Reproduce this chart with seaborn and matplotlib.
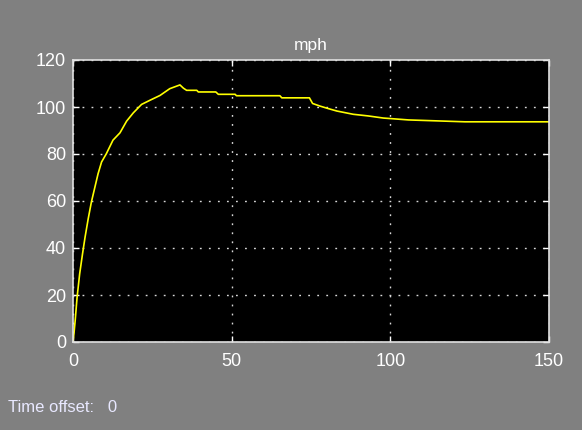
import numpy as np
import seaborn as sb
import pandas as pd
import matplotlib.pyplot as plt

# speed trace
t = [0, 0.3, 0.7, 1.3, 2.1, 3.0, 3.8, 4.8, 5.8, 6.9, 7.9, 9.0, 10.5, 12.6, 14.8,
     16.9, 19.0, 21.6, 24.3, 27.4, 30.5, 33.7, 34.8, 35.8, 39.0, 39.5, 45.0, 45.8,
     51.1, 51.5, 65.2, 65.8, 74.5, 75.5, 77.8, 80.5, 83.1, 85.7, 88.3, 93.0, 97.8,
     105.7, 123.5, 150]
mph = [0, 3.6, 9.3, 19.2, 29.0, 37.5, 44.6, 52.5, 59.6, 65.9, 71.6, 76.6, 80.1, 85.9, 89.0,
       94.0, 97.5, 101.1, 102.9, 104.9, 107.8, 109.4, 108.0, 107.1, 107.1, 106.4, 106.4, 105.4,
       105.4, 104.8, 104.8, 103.9, 103.9, 101.5, 100.4, 99.3, 98.3, 97.6, 96.9, 96.2, 95.3,
       94.5, 93.7, 93.7]
xticks = [0, 50, 100, 150]
yticks = [0, 20, 40, 60, 80, 100, 120]

df = pd.DataFrame({'t': t, 'mph': mph})

sb.set_style('dark')
plt.rcParams['font.family'] = ['Liberation Sans', 'DejaVu Sans']

fig = plt.figure(figsize=(5.82, 4.30), dpi=100, facecolor='#808080')
ax = fig.add_axes([73/582, 1-342/430, 476/582, 282/430])
ax.set_facecolor('black')
sb.lineplot(data=df, x='t', y='mph', color='#ffff00', linewidth=1.2, ax=ax)

ax.set_xlim(0, 150)
ax.set_ylim(0, 120)
ax.set_xticks(xticks)
ax.set_yticks(yticks)
ax.grid(True, color='#d8d8d8', linestyle=(0, (1.3, 5.2)), linewidth=1.0)
ax.tick_params(colors='white', labelsize=13, direction='in', length=4, width=1,
               top=True, right=True, bottom=True, left=True)
ax.tick_params(axis='x', pad=8)
ax.tick_params(axis='y', pad=5)
for s in ax.spines.values():
    s.set_color('#e0e0e0')
    s.set_linewidth(1.2)
    s.set_visible(True)
ax.set_xlabel('')
ax.set_ylabel('')
ax.set_title('mph', color='white', fontsize=12.5, pad=7)
fig.text(8/582, 1-408/430, 'Time offset:   0', color='#e8e8ff', fontsize=12, va='center')
fig.savefig('out.png', dpi=100, facecolor='#808080')
